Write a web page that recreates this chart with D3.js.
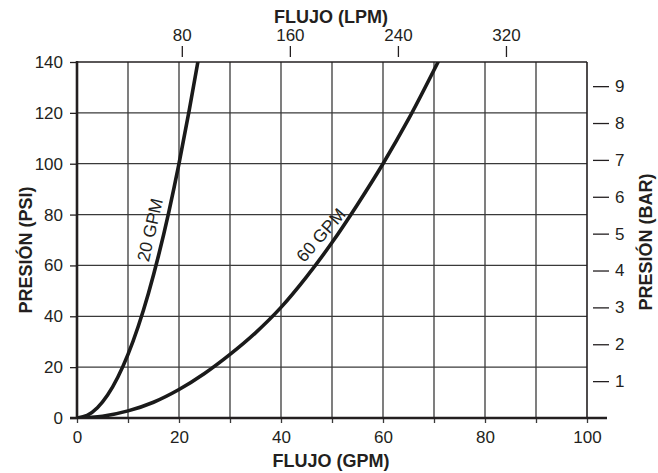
<!DOCTYPE html>
<html>
<head>
<meta charset="utf-8">
<script src="https://cdn.jsdelivr.net/npm/d3@7"></script>
<style>
  html, body { margin: 0; padding: 0; background: #fff; }
  svg { display: block; }
  text { font-family: "Liberation Sans", Arial, Helvetica, sans-serif; fill: #231f20; }
</style>
</head>
<body>
<svg id="chart" width="658" height="473"></svg>
<script>
// ---- data ----
const curve20Flow  = [0, 2, 4, 6, 8, 10, 12, 14, 16, 18, 20, 22, 23.7];
const curve20Press = [0, 1, 4, 9, 16, 25, 36, 49, 64, 81, 100, 121, 140];
const curve60Flow  = [0, 5, 10, 15, 20, 25, 30, 35, 40, 45, 50, 55, 60, 65, 70.8];
const curve60Press = [0, 0.7, 2.8, 6.2, 11.2, 17.5, 25, 33.5, 43.5, 55.5, 69, 84, 100, 117.5, 140];
const seriesLabels = ["20 GPM", "60 GPM"];

const gpmTicks = [0, 10, 20, 30, 40, 50, 60, 70, 80, 90, 100];
const gpmLabels = [0, 20, 40, 60, 80, 100];
const psiTicks = [0, 20, 40, 60, 80, 100, 120, 140];
const lpmTicks = [80, 160, 240, 320];
const barTicks = [1, 2, 3, 4, 5, 6, 7, 8, 9];
const psiPerBar = 14.5;

const titleBottom = "FLUJO (GPM)";
const titleTop = "FLUJO (LPM)";
const titleLeft = "PRESIÓN (PSI)";
const titleRight = "PRESIÓN (BAR)";

// ---- layout ----
const L = 77, R = 587, T = 62, B = 418;
const ink = "#231f20", gridCol = "#3a3a3a";
const fs = 17;

const x = d3.scaleLinear().domain([0, 100]).range([L, R]);
const y = d3.scaleLinear().domain([0, 140]).range([B, T]);
const xL = d3.scaleLinear().domain([2.4, 380]).range([L, R]);
const yB = d3.scaleLinear().domain([0, 140 / psiPerBar]).range([B, T]);

const svg = d3.select("#chart");

// grid
const g = svg.append("g");
g.selectAll("line.v").data(gpmTicks.filter(d => d > 0 && d < 100)).join("line")
  .attr("x1", d => x(d)).attr("x2", d => x(d)).attr("y1", T).attr("y2", B)
  .attr("stroke", gridCol).attr("stroke-width", 1.3);
g.selectAll("line.h").data(psiTicks.filter(d => d > 0 && d < 140)).join("line")
  .attr("x1", L).attr("x2", R).attr("y1", d => y(d)).attr("y2", d => y(d))
  .attr("stroke", gridCol).attr("stroke-width", 1.3);
// frame top & right
svg.append("line").attr("x1", L).attr("x2", R).attr("y1", T).attr("y2", T)
  .attr("stroke", ink).attr("stroke-width", 1.6);
svg.append("line").attr("x1", R).attr("x2", R).attr("y1", T).attr("y2", B)
  .attr("stroke", ink).attr("stroke-width", 1.6);

// bottom axis
const axB = svg.append("g").attr("transform", `translate(0,${B})`)
  .call(d3.axisBottom(x).tickValues(gpmTicks).tickSize(5).tickPadding(8)
    .tickFormat(d => gpmLabels.includes(d) ? d : ""));
axB.select(".domain").remove();
axB.selectAll(".tick line").attr("stroke", gridCol).attr("stroke-width", 1.3);
axB.selectAll("text").attr("font-size", fs).attr("fill", ink).attr("font-family", null);

// left axis
const axLft = svg.append("g").attr("transform", `translate(${L},0)`)
  .call(d3.axisLeft(y).tickValues(psiTicks).tickSize(7).tickPadding(7));
axLft.select(".domain").remove();
axLft.selectAll(".tick line").attr("stroke", ink).attr("stroke-width", 1.3);
axLft.selectAll("text").attr("font-size", fs).attr("fill", ink).attr("font-family", null);

// top axis (LPM)
const axT = svg.append("g").attr("transform", `translate(0,57)`)
  .call(d3.axisTop(xL).tickValues(lpmTicks).tickSize(11).tickPadding(5));
axT.select(".domain").remove();
axT.selectAll(".tick line").attr("stroke", ink).attr("stroke-width", 1.3);
axT.selectAll("text").attr("font-size", fs).attr("fill", ink).attr("font-family", null);

// right axis (BAR)
const axR = svg.append("g").attr("transform", `translate(593,0)`)
  .call(d3.axisRight(yB).tickValues(barTicks).tickSize(16).tickPadding(6));
axR.select(".domain").remove();
axR.selectAll(".tick line").attr("stroke", ink).attr("stroke-width", 1.3);
axR.selectAll("text").attr("font-size", fs).attr("fill", ink).attr("font-family", null);

// main axes lines (thick)
svg.append("line").attr("x1", 70).attr("x2", 607).attr("y1", B).attr("y2", B)
  .attr("stroke", ink).attr("stroke-width", 2.6);
svg.append("line").attr("x1", L).attr("x2", L).attr("y1", T - 1).attr("y2", B + 1)
  .attr("stroke", ink).attr("stroke-width", 2.6);

// curves
svg.append("clipPath").attr("id", "clip").append("rect")
  .attr("x", L).attr("y", T).attr("width", R - L).attr("height", B - T);
const line = d3.line().x(d => x(d[0])).y(d => y(d[1])).curve(d3.curveMonotoneX);
const series = [d3.zip(curve20Flow, curve20Press), d3.zip(curve60Flow, curve60Press)];
svg.append("g").attr("clip-path", "url(#clip)")
  .selectAll("path").data(series).join("path")
  .attr("d", line).attr("fill", "none").attr("stroke", "#1a1a1a")
  .attr("stroke-width", 3.6).attr("stroke-linecap", "round");

// curve labels
const labelPos = [[14.3, 74, -77], [47.8, 72, -49]];
svg.selectAll("text.clab").data(seriesLabels).join("text")
  .attr("class", "clab")
  .attr("transform", (d, i) => `translate(${x(labelPos[i][0])},${y(labelPos[i][1])}) rotate(${labelPos[i][2]})`)
  .attr("text-anchor", "middle").attr("dy", "0.35em")
  .attr("font-size", 17.5).text(d => d);

// titles
svg.append("text").attr("x", 331).attr("y", 467).attr("text-anchor", "middle")
  .attr("font-size", 18).attr("font-weight", "bold").text(titleBottom);
svg.append("text").attr("x", 331).attr("y", 23).attr("text-anchor", "middle")
  .attr("font-size", 18).attr("font-weight", "bold").text(titleTop);
svg.append("text").attr("transform", "translate(31.5,250) rotate(-90)").attr("text-anchor", "middle")
  .attr("font-size", 18).attr("font-weight", "bold").text(titleLeft);
svg.append("text").attr("transform", "translate(652,242) rotate(-90)").attr("text-anchor", "middle")
  .attr("font-size", 18).attr("font-weight", "bold").text(titleRight);
</script>
</body>
</html>
